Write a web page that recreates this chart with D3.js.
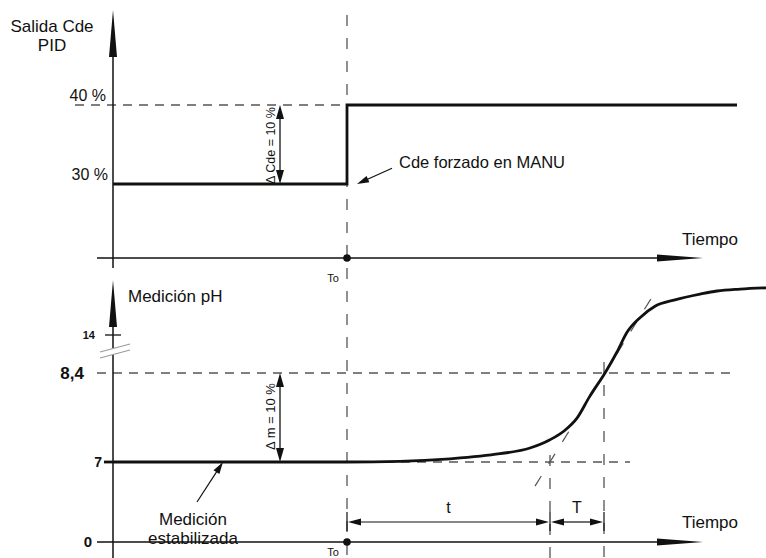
<!DOCTYPE html>
<html>
<head>
<meta charset="utf-8">
<script src="https://cdn.jsdelivr.net/npm/d3@7"></script>
<style>
  body { margin: 0; background: #fff; }
  text { font-family: "Liberation Sans", Arial, sans-serif; fill: #111; }
</style>
</head>
<body>
<div id="chart"></div>
<script>
// time in arbitrary units, To = 0
var cdeTime = [-23.4, 0, 39];
var cdeValue = [30, 40, 40];          // % output, step after To
var cdeTicks = [30, 40];
var cdeTickLabels = ["30 %", "40 %"];

var phTime = [-23.4, 0, 5.3, 10.3, 15.3, 18.3, 20.3, 21.8, 23.0, 24.3, 25.8, 27.0, 28.0, 29.3, 30.8, 32.8, 35.3, 37.0, 39.3, 42];
var phValue = [7.0, 7.0, 7.01, 7.05, 7.13, 7.22, 7.35, 7.5, 7.69, 8.04, 8.4, 8.73, 9.04, 9.27, 9.45, 9.55, 9.64, 9.69, 9.72, 9.74];
var phTicks = [0, 7, 8.4, 14];
var phTickLabels = ["0", "7", "8,4", "14"];

var tangentTime = [18.8, 30.8];
var tangentValue = [6.62, 9.67];

var tEnd = 20.3;     // end of dead time t
var TEnd = 25.7;     // end of time constant T

var W = 766, H = 558;
var svg = d3.select("#chart").append("svg")
    .attr("width", W)
    .attr("height", H);

// scales
var x = d3.scaleLinear().domain([-25, 39]).range([97, 737]);
var yCde = d3.scaleLinear().domain([30, 40]).range([184, 105]);
var yPh = d3.scaleLinear().domain([7, 8.4]).range([462, 373]);
// broken axis for the pH ticks
var yPhAxis = d3.scaleLinear().domain(phTicks).range([542, 462, 373, 335]);

var axisX = x(-23.4);
var topBase = 258, botBase = yPhAxis(0);
var dash = "9,7";
var ink = "#111", grey = "#555";

function tri(pts) {
    return svg.append("path")
        .attr("d", "M" + pts.map(function (p) { return p.join(","); }).join("L") + "Z")
        .attr("fill", ink);
}
// arrow head with tip at (tx,ty)
function head(tx, ty, dir, len, half) {
    if (dir == "up") return tri([[tx, ty], [tx - half, ty + len], [tx + half, ty + len]]);
    if (dir == "down") return tri([[tx, ty], [tx - half, ty - len], [tx + half, ty - len]]);
    if (dir == "right") return tri([[tx, ty], [tx - len, ty - half], [tx - len, ty + half]]);
    if (dir == "left") return tri([[tx, ty], [tx + len, ty - half], [tx + len, ty + half]]);
}
function seg(x1, y1, x2, y2, w, col, da) {
    var l = svg.append("line")
        .attr("x1", x1).attr("y1", y1).attr("x2", x2).attr("y2", y2)
        .attr("stroke", col || ink).attr("stroke-width", w || 1.5);
    if (da) l.attr("stroke-dasharray", da);
    return l;
}
function label(txt, tx, ty, size, anchor, weight) {
    return svg.append("text")
        .attr("x", tx).attr("y", ty)
        .attr("font-size", size)
        .attr("text-anchor", anchor || "start")
        .attr("font-weight", weight || "normal")
        .text(txt);
}

// ---------- guides (dashed) ----------
seg(x(0), 15, x(0), H, 1.3, grey, "11,12");
seg(75, yCde(40), x(0), yCde(40), 1.3, grey, dash);
seg(97, yPh(8.4), 737, yPh(8.4), 1.3, grey, dash);
seg(axisX, yPh(7), 630, yPh(7), 1.3, grey, dash);
seg(x(tEnd), 455, x(tEnd), H, 1.3, grey, "11,12");
seg(x(TEnd), 362, x(TEnd), H, 1.3, grey, "11,12");
svg.append("path")
    .datum(d3.zip(tangentTime, tangentValue))
    .attr("d", d3.line().x(function (d) { return x(d[0]); }).y(function (d) { return yPh(d[1]); }))
    .attr("fill", "none").attr("stroke", grey).attr("stroke-width", 1.2)
    .attr("stroke-dasharray", "12,14");

// ---------- upper panel: PID output ----------
seg(axisX, 57, axisX, 268);
head(axisX, 10, "up", 47, 4);
seg(97, topBase, 657, topBase);
head(703, topBase, "right", 46, 3.5);

svg.append("path")
    .datum(d3.zip(cdeTime, cdeValue))
    .attr("d", d3.line().curve(d3.curveStepAfter)
        .x(function (d) { return x(d[0]); })
        .y(function (d) { return yCde(d[1]); }))
    .attr("fill", "none").attr("stroke", ink).attr("stroke-width", 2.8);

svg.selectAll(".cdeTick").data(cdeTicks).enter().append("text")
    .attr("class", "cdeTick")
    .attr("x", function (d, i) { return i ? 106 : 108; })
    .attr("y", function (d) { return yCde(d) - 4; })
    .attr("font-size", 16).attr("text-anchor", "end")
    .text(function (d, i) { return cdeTickLabels[i]; });

label("Salida Cde", 52, 32, 17, "middle");
label("PID", 52, 51, 17, "middle");
label("Tiempo", 738, 245, 17, "end");

// delta Cde
seg(280, yCde(40) + 12, 280, yCde(30) - 12, 1.3);
head(280, yCde(40), "up", 14, 4);
head(280, yCde(30), "down", 14, 4);
label("\u0394 Cde = 10 %", 0, 0, 12.5, "middle")
    .attr("transform", "translate(275," + (yCde(35) + 1) + ") rotate(-90)");

// Cde forzado en MANU
seg(x(4.5), yCde(32), x(1.0) + 10, yCde(30) - 4.5, 1.2);
head(x(1.0), yCde(30), "left", 12, 3.5)
    .attr("transform", "rotate(-24," + x(1.0) + "," + yCde(30) + ")");
label("Cde forzado en MANU", 399, 168, 16.5);

svg.append("circle").attr("cx", x(0)).attr("cy", topBase).attr("r", 3.8).attr("fill", ink);
label("To", x(0) - 14, 282, 11, "middle");

// ---------- lower panel: pH measurement ----------
seg(axisX, 327, axisX, 348);
seg(axisX, 355, axisX, H);
head(axisX, 280, "up", 47, 4);
seg(100, 352, 130, 344, 1.2, "#999");
seg(100, 358, 130, 350, 1.2, "#999");
seg(97, botBase, 657, botBase);
head(703, botBase, "right", 46, 3.5);

// tick marks
seg(105, yPhAxis(14), 121, yPhAxis(14), 1.3);
seg(104, yPhAxis(7), axisX, yPhAxis(7), 2.8);

var tickSize = [15, 14, 17, 11];
var tickRight = [92, 102, 84, 95];
svg.selectAll(".phTick").data(phTicks).enter().append("text")
    .attr("class", "phTick")
    .attr("x", function (d, i) { return tickRight[i]; })
    .attr("y", function (d, i) { return yPhAxis(d) + tickSize[i] * 0.36; })
    .attr("font-size", function (d, i) { return tickSize[i]; })
    .attr("font-weight", "bold").attr("text-anchor", "end")
    .text(function (d, i) { return phTickLabels[i]; });

svg.append("path")
    .datum(d3.zip(phTime, phValue))
    .attr("d", d3.line().curve(d3.curveMonotoneX)
        .x(function (d) { return x(d[0]); })
        .y(function (d) { return yPh(d[1]); }))
    .attr("fill", "none").attr("stroke", ink).attr("stroke-width", 2.8);

label("Medici\u00f3n pH", 128, 302, 17);
label("Tiempo", 738, 528, 17, "end");

// delta m
seg(280, yPh(8.4) + 12, 280, yPh(7) - 12, 1.3);
head(280, yPh(8.4), "up", 14, 4);
head(280, yPh(7), "down", 14, 4);
label("\u0394 m = 10 %", 0, 0, 13, "middle")
    .attr("transform", "translate(275," + (yPh(7.7) - 1) + ") rotate(-90)");

// Medición estabilizada
var ang = Math.atan2(yPh(7) - 502, x(-12.4) - x(-15));
seg(x(-15), 502, x(-12.4) - 10 * Math.cos(ang), yPh(7) - 10 * Math.sin(ang), 1.2);
head(x(-12.4), yPh(7), "right", 12, 3.5)
    .attr("transform", "rotate(" + (ang * 180 / Math.PI) + "," + x(-12.4) + "," + yPh(7) + ")");
label("Medici\u00f3n", 193, 525, 17, "middle");
label("estabilizada", 193, 544, 17, "middle");

// t and T dimensions
var dimY = 522;
[0, tEnd, TEnd].forEach(function (t) { seg(x(t), 512, x(t), 531, 1.2); });
seg(x(0) + 12, dimY, x(tEnd) - 12, dimY, 1.2);
head(x(0) + 1, dimY, "left", 13, 3.5);
head(x(tEnd) - 1, dimY, "right", 13, 3.5);
seg(x(tEnd) + 12, dimY, x(TEnd) - 12, dimY, 1.2);
head(x(tEnd) + 1, dimY, "left", 13, 3.5);
head(x(TEnd) - 1, dimY, "right", 13, 3.5);
label("t", (x(0) + x(tEnd)) / 2, 513, 16, "middle");
label("T", (x(tEnd) + x(TEnd)) / 2, 513, 16, "middle");

svg.append("circle").attr("cx", x(0)).attr("cy", botBase).attr("r", 3.8).attr("fill", ink);
label("To", x(0) - 14, 556, 11, "middle");
</script>
</body>
</html>
